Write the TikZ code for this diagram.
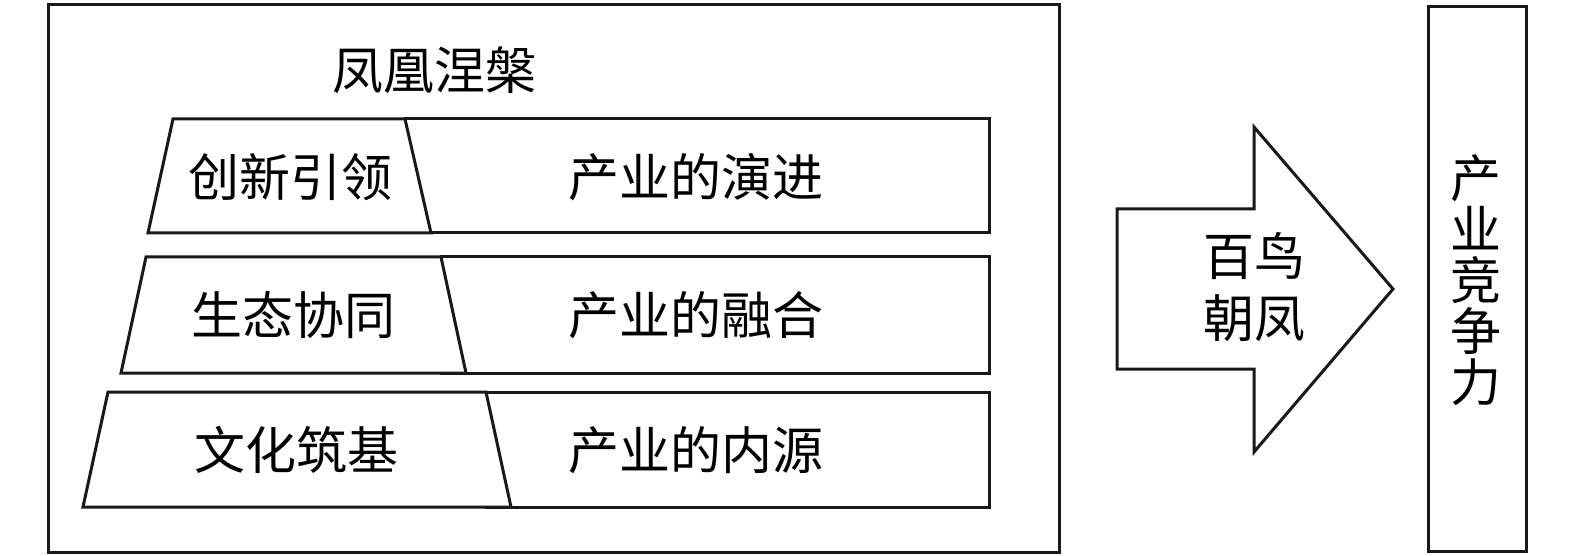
\documentclass[tikz,border=0pt]{standalone}
\usepackage{fontspec}
\setmainfont{Noto Sans CJK SC}
\begin{document}
\begin{tikzpicture}[x=1pt,y=-1pt,
  line width=3pt, line join=miter,
  frame/.style={draw=black!90},
  lbl/.style={inner sep=0pt, font=\fontsize{51}{51}\selectfont},
  stack/.style={lbl, align=center, font=\fontsize{51}{62}\selectfont},
  vstack/.style={lbl, align=center, font=\fontsize{51}{51}\selectfont}]
\useasboundingbox (0,0) rectangle (1575,556);
% outer frame
\draw[frame] (48,5) rectangle (1059,552);
\node[lbl] (title) at (434,70) {凤凰涅槃};
% row 1
\draw[frame, fill=white] (405,119) rectangle (989,233);
\draw[frame, fill=white] (173,119) -- (405,119) -- (431,233) -- (148,233) -- cycle;
\node[lbl] (l1) at (290,177) {创新引领};
\node[lbl] (r1) at (696,177) {产业的演进};
% row 2
\draw[frame, fill=white] (441,257) rectangle (989,373);
\draw[frame, fill=white] (146,257) -- (441,257) -- (466,373) -- (121,373) -- cycle;
\node[lbl] (l2) at (293,315) {生态协同};
\node[lbl] (r2) at (696,315) {产业的融合};
% row 3
\draw[frame, fill=white] (486,392) rectangle (989,507);
\draw[frame, fill=white] (108,392) -- (486,392) -- (511,507) -- (83,507) -- cycle;
\node[lbl] (l3) at (296,450) {文化筑基};
\node[lbl] (r3) at (696,450) {产业的内源};
% big arrow
\draw[frame, fill=white] (1117,209) -- (1254,209) -- (1254,127) -- (1393,289)
  -- (1254,452) -- (1254,369) -- (1117,369) -- cycle;
\node[stack] (arr) at (1254,287) {百鸟\\朝凤};
% right box
\draw[frame] (1428,7) rectangle (1526,551);
\node[vstack] (comp) at (1476,280) {产\\业\\竞\\争\\力};
\end{tikzpicture}
\end{document}
